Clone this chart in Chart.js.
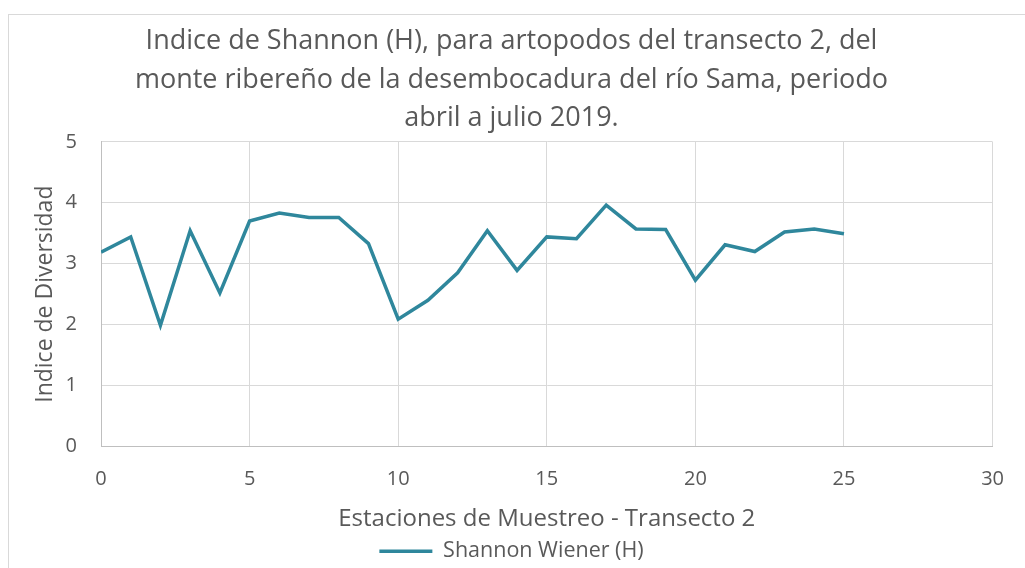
<!DOCTYPE html>
<html>
<head>
<meta charset="utf-8">
<script src="https://cdn.jsdelivr.net/npm/chart.js@4/dist/chart.umd.min.js"></script>
<style>
  html, body { margin: 0; padding: 0; background: #fff; }
  #wrap { width: 1025px; height: 568px; }
</style>
</head>
<body>
<div id="wrap"><canvas id="myChart" width="1025" height="568"></canvas></div>
<script>
// estaciones de muestreo y valores de Shannon
const estaciones = [0, 1, 2, 3, 4, 5, 6, 7, 8, 9, 10, 11, 12, 13, 14, 15, 16, 17, 18, 19, 20, 21, 22, 23, 24, 25];
const shannon = [3.19, 3.44, 1.99, 3.54, 2.52, 3.70, 3.83, 3.76, 3.76, 3.33, 2.09, 2.40, 2.85, 3.54, 2.89,
                 3.44, 3.41, 3.96, 3.57, 3.56, 2.73, 3.31, 3.20, 3.52, 3.57, 3.49];
const tituloLineas = [
  'Indice de Shannon (H), para artopodos del transecto 2, del',
  'monte ribereño de la desembocadura del río Sama, periodo',
  'abril a julio 2019.'
];
const serieNombre = 'Shannon Wiener (H)';
const ejeX = 'Estaciones de Muestreo - Transecto 2';
const ejeY = 'Indice de Diversidad';

const fuente = '"Open Sans", sans-serif';
const gris = '#595959';

let puntos = [];
for (let i in estaciones) {
  puntos.push({ x: estaciones[i], y: shannon[i] });
}

// borde del area del grafico
const borde = {
  id: 'borde',
  afterDraw(chart) {
    const c = chart.ctx;
    c.save();
    c.strokeStyle = '#d9d9d9';
    c.lineWidth = 1;
    c.strokeRect(8.5, 14.5, 1030, 600);
    c.restore();
  }
};

let ctx = document.getElementById('myChart').getContext('2d');
let myChart = new Chart(ctx, {
  type: 'line',
  data: {
    datasets: [{
      label: serieNombre,
      data: puntos,
      borderColor: '#2f879c',
      backgroundColor: '#2f879c',
      borderWidth: 3.5,
      pointRadius: 0,
      tension: 0,
      fill: false
    }]
  },
  options: {
    responsive: false,
    animation: false,
    layout: { padding: { left: 30, right: 32, top: 0, bottom: -4 } },
    plugins: {
      title: {
        display: true,
        text: tituloLineas,
        color: gris,
        font: { family: fuente, size: 27, weight: 'normal', lineHeight: 1.43 },
        padding: { top: 22, bottom: 4 }
      },
      legend: {
        display: true,
        position: 'bottom',
        labels: {
          usePointStyle: true,
          pointStyle: 'line',
          pointStyleWidth: 53,
          color: gris,
          font: { family: fuente, size: 21.5 },
          padding: 1
        }
      },
      tooltip: { enabled: false }
    },
    scales: {
      x: {
        type: 'linear',
        min: 0,
        max: 30,
        afterFit: function(s) { s.height = 93; },
        ticks: { stepSize: 5, color: gris, font: { family: fuente, size: 20 }, padding: 21 },
        grid: { color: '#d9d9d9', drawTicks: false },
        border: { color: '#bfbfbf' },
        title: { display: true, text: ejeX, color: gris, font: { family: fuente, size: 24 }, padding: { top: 0, bottom: 6 } }
      },
      y: {
        min: 0,
        max: 5,
        afterFit: function(s) { s.width = 71; },
        ticks: { stepSize: 1, color: gris, font: { family: fuente, size: 20 }, padding: 24 },
        grid: { color: '#d9d9d9', drawTicks: false },
        border: { color: '#bfbfbf' },
        title: { display: true, text: ejeY, color: gris, font: { family: fuente, size: 23 }, padding: { top: 2, bottom: 0 } }
      }
    }
  },
  plugins: [borde]
});
</script>
</body>
</html>
